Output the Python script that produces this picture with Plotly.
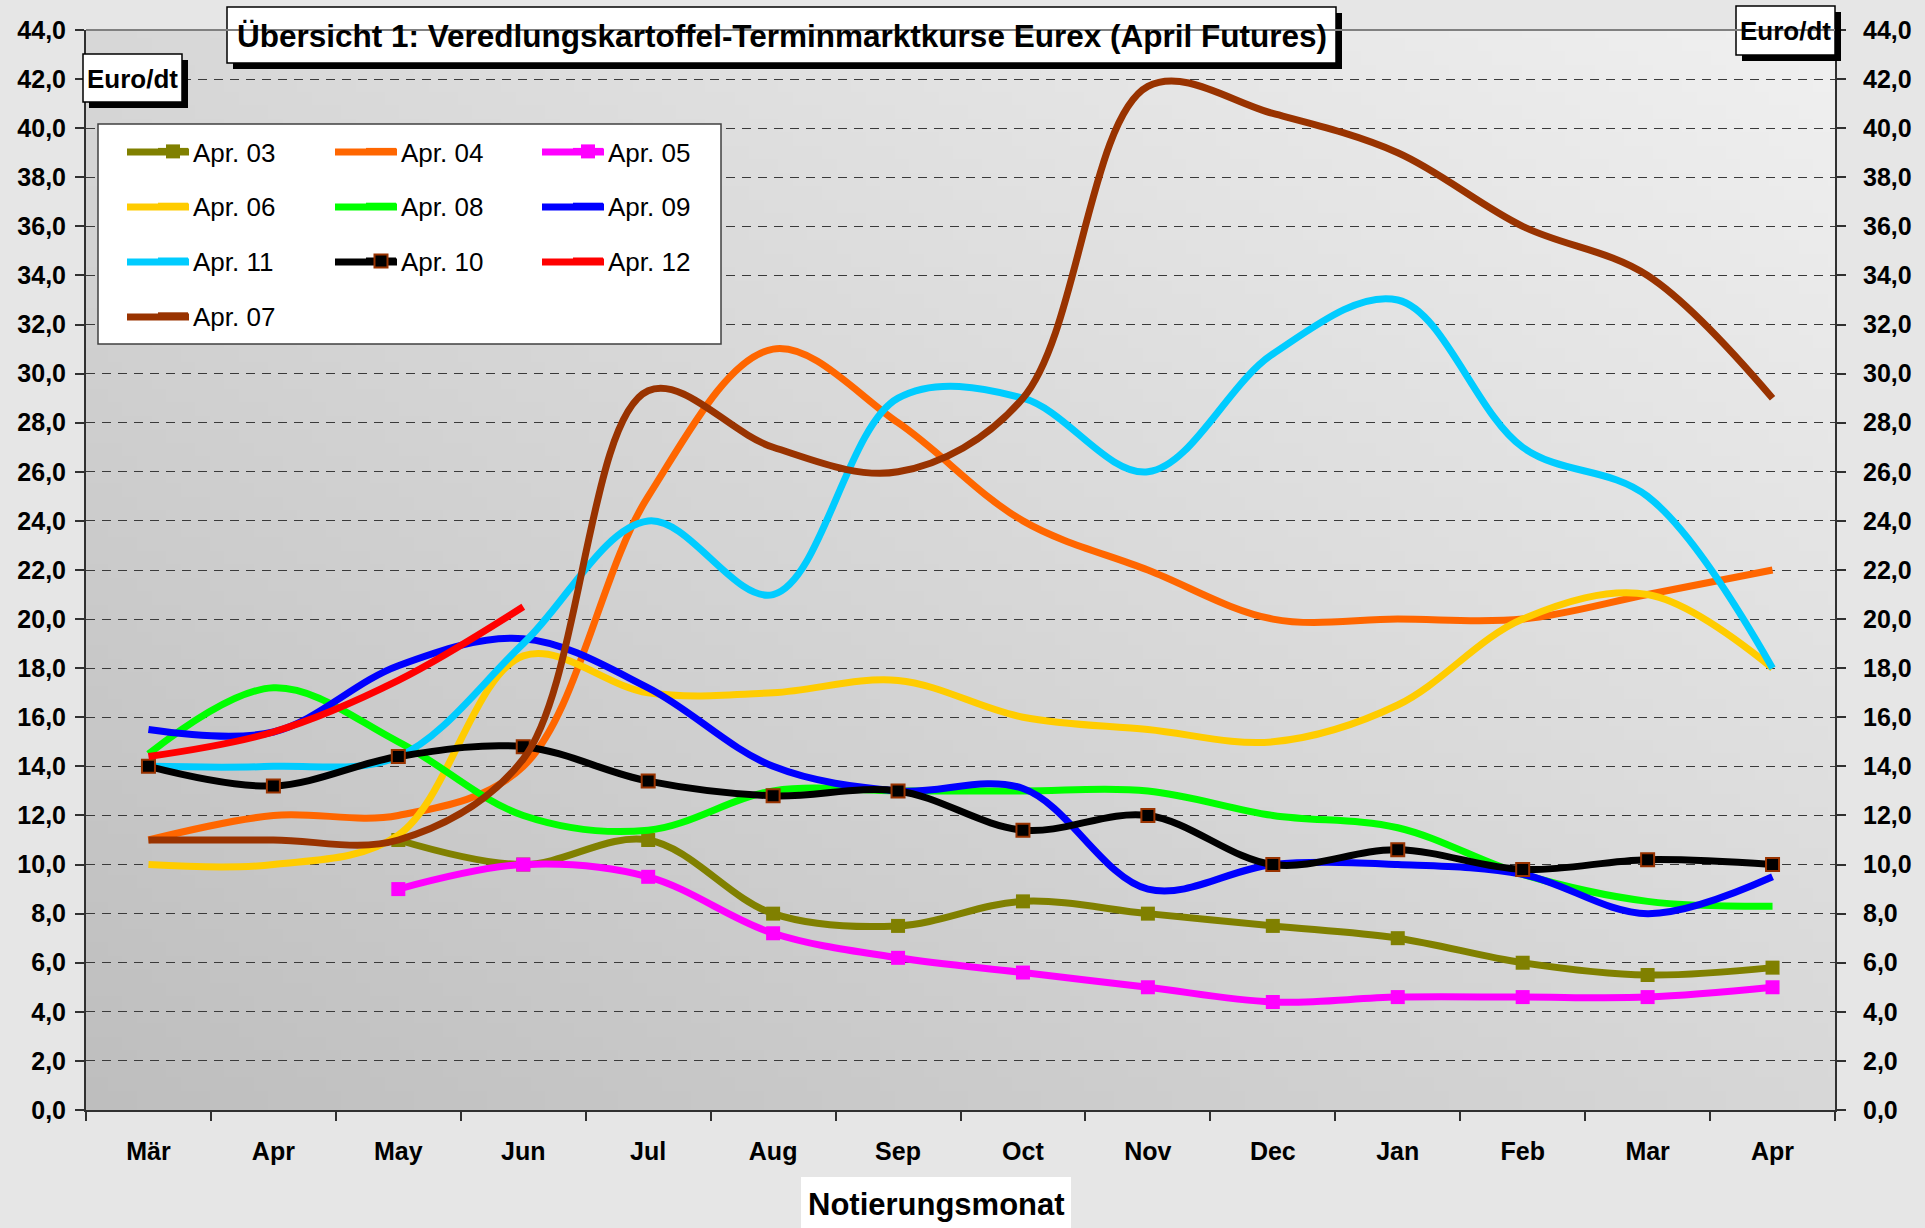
import base64
import struct
import zlib

import plotly.graph_objects as go

# ---------------- data ----------------
months = ["Mär", "Apr", "May", "Jun", "Jul", "Aug", "Sep", "Oct", "Nov", "Dec", "Jan", "Feb", "Mar", "Apr"]

apr03 = [None, None, 11.0, 10.0, 11.0, 8.0, 7.5, 8.5, 8.0, 7.5, 7.0, 6.0, 5.5, 5.8]
apr04 = [11.0, 12.0, 12.0, 14.0, 25.0, 31.0, 28.0, 24.0, 22.0, 20.0, 20.0, 20.0, 21.0, 22.0]
apr05 = [None, None, 9.0, 10.0, 9.5, 7.2, 6.2, 5.6, 5.0, 4.4, 4.6, 4.6, 4.6, 5.0]
apr06 = [10.0, 10.0, 11.2, 18.5, 17.0, 17.0, 17.5, 16.0, 15.5, 15.0, 16.5, 20.0, 21.0, 18.0]
apr08 = [14.5, 17.2, 15.0, 12.0, 11.4, 13.0, 13.0, 13.0, 13.0, 12.0, 11.5, 9.6, 8.5, 8.3]
apr09 = [15.5, 15.4, 18.1, 19.2, 17.2, 14.0, 13.0, 13.1, 9.0, 10.0, 10.0, 9.6, 8.0, 9.5]
apr11 = [14.0, 14.0, 14.4, 19.0, 24.0, 21.0, 29.0, 29.0, 26.0, 30.8, 33.0, 27.0, 25.0, 18.0]
apr10 = [14.0, 13.2, 14.4, 14.8, 13.4, 12.8, 13.0, 11.4, 12.0, 10.0, 10.6, 9.8, 10.2, 10.0]
apr12 = [14.4, 15.4, 17.5, 20.5, None, None, None, None, None, None, None, None, None, None]
apr07 = [11.0, 11.0, 11.0, 14.3, 29.3, 27.0, 26.0, 29.0, 41.7, 40.6, 39.0, 36.0, 34.0, 29.0]

y_ticks = list(range(0, 45, 2))

# ---------------- geometry helpers (pixel -> paper) ----------------
W_FIG, H_FIG = 1925, 1228
L, R, T, B = 86, 1835, 30, 1110
PW, PH = R - L, B - T


def px(x):
    return (x - L) / PW


def py(y):
    return (B - y) / PH


FONT = "Liberation Sans, Arial, sans-serif"


# ---------------- plot-area gradient (generated PNG) ----------------
def png_uri(w, h, fn):
    rows = []
    for yy in range(h):
        row = bytearray([0])
        for xx in range(w):
            row.extend(fn(xx, yy))
        rows.append(bytes(row))
    raw = b"".join(rows)

    def chunk(tag, data):
        c = struct.pack(">I", len(data)) + tag + data
        return c + struct.pack(">I", zlib.crc32(tag + data) & 0xFFFFFFFF)

    png = (b"\x89PNG\r\n\x1a\n"
           + chunk(b"IHDR", struct.pack(">IIBBBBB", w, h, 8, 2, 0, 0, 0))
           + chunk(b"IDAT", zlib.compress(raw, 9))
           + chunk(b"IEND", b""))
    return "data:image/png;base64," + base64.b64encode(png).decode()


GW, GH = 120, 80


def grad(xx, yy):
    xf = xx / (GW - 1)
    yf = 1 - yy / (GH - 1)
    v = int(round(190 + 25 * xf + 25 * yf))
    return (v, v, v)


grad_uri = png_uri(GW, GH, grad)

# ---------------- traces ----------------
x_idx = list(range(len(months)))

# name, values, colour, marker, legend column, legend row
series = [
    ("Apr. 03", apr03, "#808000", dict(symbol="square", size=14, color="#808000"), 0, 0),
    ("Apr. 04", apr04, "#FF6600", None, 1, 0),
    ("Apr. 05", apr05, "#FF00FF", dict(symbol="square", size=14, color="#FF00FF"), 2, 0),
    ("Apr. 06", apr06, "#FFCC00", None, 0, 1),
    ("Apr. 08", apr08, "#00FF00", None, 1, 1),
    ("Apr. 09", apr09, "#0000FF", None, 2, 1),
    ("Apr. 11", apr11, "#00CCFF", None, 0, 2),
    ("Apr. 10", apr10, "#000000",
     dict(symbol="square", size=13, color="#000000", line=dict(color="#993300", width=2)), 1, 2),
    ("Apr. 12", apr12, "#FF0000", None, 2, 2),
    ("Apr. 07", apr07, "#993300", None, 0, 3),
]
legend_ids = ["legend", "legend2", "legend3"]

fig = go.Figure()
for name, vals, color, marker, col, row in series:
    fig.add_trace(go.Scatter(
        x=x_idx, y=vals, name=name,
        mode="lines+markers" if marker else "lines",
        line=dict(color=color, width=7, shape="spline", smoothing=1.0),
        marker=marker if marker else None,
        legend=legend_ids[col], legendgroup=name,
        connectgaps=False,
    ))

# invisible trace for the right-hand axis
fig.add_trace(go.Scatter(x=[x_idx[0]], y=[y_ticks[0]], yaxis="y2", mode="markers",
                         marker=dict(opacity=0), showlegend=False, hoverinfo="skip"))

# ---------------- shapes (boxes, shadows) ----------------
shapes = []


def box(x0, y0, x1, y1, shadow=6, line_color="#000000", lw=1.5):
    if shadow:
        shapes.append(dict(type="rect", xref="paper", yref="paper", layer="above",
                           x0=px(x0 + shadow), x1=px(x1 + shadow), y0=py(y1 + shadow), y1=py(y0 + shadow),
                           fillcolor="#000000", line=dict(width=0)))
    shapes.append(dict(type="rect", xref="paper", yref="paper", layer="above",
                       x0=px(x0), x1=px(x1), y0=py(y1), y1=py(y0),
                       fillcolor="#FFFFFF", line=dict(color=line_color, width=lw)))


box(227, 7, 1336, 63)            # title
box(83, 54, 182, 102)            # left unit
box(1736, 6, 1835, 55)           # right unit
box(98, 124, 721, 344, shadow=0, line_color="#404040")  # legend box
box(801, 1177, 1071, 1240, shadow=0, line_color="#FFFFFF", lw=0)  # x title box

# longer legend key lines (Excel-style), drawn under the native legend symbols
key_x0 = [127, 335, 542]
key_len = 62
key_y = [152, 207, 262, 317]
for name, vals, color, marker, col, row in series:
    shapes.append(dict(type="line", xref="paper", yref="paper", layer="above",
                       x0=px(key_x0[col]), x1=px(key_x0[col] + key_len),
                       y0=py(key_y[row]), y1=py(key_y[row]),
                       line=dict(color=color, width=7)))

annotations = [
    dict(text="<b>Übersicht 1: Veredlungskartoffel-Terminmarktkurse Eurex (April Futures)</b>",
         x=px(781.5), y=py(36), xref="paper", yref="paper", showarrow=False,
         xanchor="center", yanchor="middle", font=dict(family=FONT, size=31.5, color="#000000")),
    dict(text="<b>Euro/dt</b>", x=px(132.5), y=py(79), xref="paper", yref="paper", showarrow=False,
         xanchor="center", yanchor="middle", font=dict(family=FONT, size=26, color="#000000")),
    dict(text="<b>Euro/dt</b>", x=px(1785.5), y=py(31), xref="paper", yref="paper", showarrow=False,
         xanchor="center", yanchor="middle", font=dict(family=FONT, size=26, color="#000000")),
    dict(text="<b>Notierungsmonat</b>", x=px(936), y=py(1204), xref="paper", yref="paper", showarrow=False,
         xanchor="center", yanchor="middle", font=dict(family=FONT, size=31, color="#000000")),
]

legend_common = dict(
    bgcolor="rgba(0,0,0,0)", borderwidth=0,
    font=dict(family=FONT, size=26, color="#000000"),
    orientation="v", tracegroupgap=18, xanchor="left", yanchor="top",
    itemclick=False, itemdoubleclick=False,
)

axis_font = dict(family=FONT, size=25, color="#000000", weight="bold")

fig.update_layout(
    width=W_FIG, height=H_FIG,
    margin=dict(l=L, r=W_FIG - R, t=T, b=H_FIG - B, autoexpand=False),
    paper_bgcolor="#E6E6E6",
    plot_bgcolor="rgba(0,0,0,0)",
    separators=",.",
    showlegend=True,
    legend=dict(x=px(153), y=py(128), **legend_common),
    legend2=dict(x=px(361), y=py(128), **legend_common),
    legend3=dict(x=px(568), y=py(128), **legend_common),
    xaxis=dict(
        range=[-0.5, len(months) - 0.5],
        tickmode="array", tickvals=x_idx, ticktext=months,
        ticks="", ticklabelstandoff=18,
        tickfont=axis_font,
        showgrid=False, zeroline=False,
        showline=True, linecolor="#303030", linewidth=2,
        minor=dict(tick0=-0.5, dtick=1, ticks="outside", ticklen=9, tickwidth=1.5,
                   tickcolor="#303030", showgrid=False),
        fixedrange=True,
    ),
    yaxis=dict(
        range=[0, 44], tickmode="array", tickvals=y_ticks, tickformat=".1f",
        ticks="outside", ticklen=9, tickwidth=1.5, tickcolor="#303030",
        tickfont=axis_font, ticklabelstandoff=4,
        showgrid=True, gridcolor="#3A3A3A", gridwidth=1.2, griddash="9px,7px",
        zeroline=False, showline=True, linecolor="#303030", linewidth=2,
        fixedrange=True,
    ),
    yaxis2=dict(
        range=[0, 44], tickmode="array", tickvals=y_ticks, tickformat=".1f",
        overlaying="y", side="right",
        ticks="outside", ticklen=9, tickwidth=1.5, tickcolor="#303030",
        tickfont=axis_font, ticklabelstandoff=12,
        showgrid=False, zeroline=False, showline=True, linecolor="#303030", linewidth=2,
        fixedrange=True,
    ),
    images=[dict(source=grad_uri, xref="paper", yref="paper", x=0, y=1, sizex=1, sizey=1,
                 sizing="stretch", xanchor="left", yanchor="top", layer="below")],
    shapes=shapes + [dict(type="line", xref="paper", yref="paper", x0=0, x1=1, y0=1, y1=1,
                          line=dict(color="#808080", width=2), layer="above")],
    annotations=annotations,
    hovermode=False,
)

fig.write_html(
    "out.html",
    config={"displayModeBar": False},
    post_script="document.body.style.margin='0';document.body.style.overflow='hidden';",
)
